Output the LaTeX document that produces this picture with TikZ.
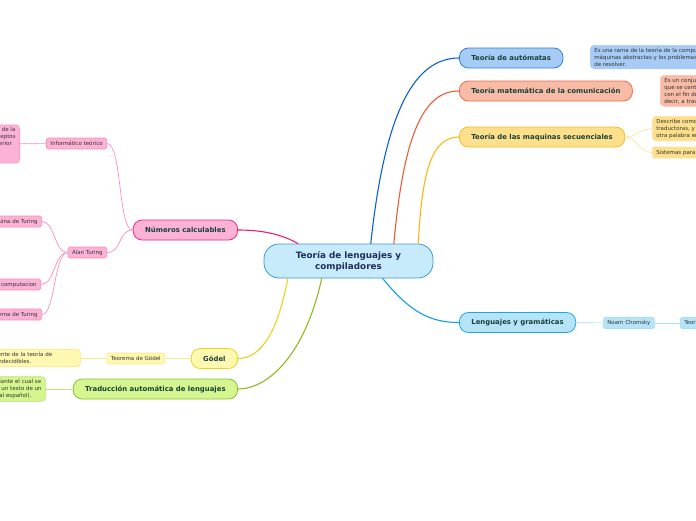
\documentclass[tikz,border=0pt]{standalone}
\usepackage{fontspec}
\setmainfont{DejaVu Sans}
\usetikzlibrary{positioning}

\definecolor{rootfill}{HTML}{C8EBFB}
\definecolor{rootdraw}{HTML}{3C96D6}
\definecolor{roottext}{HTML}{1F2D5C}
\definecolor{maintext}{HTML}{17403A}
\definecolor{subtext}{HTML}{333333}
% right side
\definecolor{autfill}{HTML}{A6CBF5}
\definecolor{autdraw}{HTML}{2D7EE0}
\definecolor{autline}{HTML}{0A5FD6}
\definecolor{autsub}{HTML}{A9CCF4}
\definecolor{comfill}{HTML}{F8BBA5}
\definecolor{comdraw}{HTML}{EE6A47}
\definecolor{comline}{HTML}{EC5A35}
\definecolor{comsub}{HTML}{F9C2AE}
\definecolor{secfill}{HTML}{FDDF8C}
\definecolor{secdraw}{HTML}{F6B926}
\definecolor{secline}{HTML}{F8B80F}
\definecolor{secsub}{HTML}{FDE3A0}
\definecolor{lenfill}{HTML}{B5E4F9}
\definecolor{lendraw}{HTML}{1EA6E2}
\definecolor{lenline}{HTML}{129FE0}
\definecolor{lensub}{HTML}{A8DDF6}
% left side
\definecolor{numfill}{HTML}{FCB2D5}
\definecolor{numdraw}{HTML}{EC2A86}
\definecolor{numline}{HTML}{E91E73}
\definecolor{numsub}{HTML}{F88DC0}
\definecolor{godfill}{HTML}{FFF8B0}
\definecolor{goddraw}{HTML}{E8D71C}
\definecolor{godline}{HTML}{E6D51C}
\definecolor{godsub}{HTML}{F7EB8E}
\definecolor{trafill}{HTML}{D5F58F}
\definecolor{tradraw}{HTML}{88C234}
\definecolor{traline}{HTML}{8FB91F}
\definecolor{trasub}{HTML}{BCE382}

\begin{document}
\begin{tikzpicture}[
	x=1pt, y=-1pt,
	line cap=round
]
\tikzset{
    rootnode/.style = {rectangle, rounded corners=15pt, draw=rootdraw, fill=rootfill, line width=0.8pt,
        minimum width=169pt, minimum height=34pt, align=center, text=roottext,
        font=\fontsize{8.8}{11}\selectfont\bfseries},
    mainnode/.style = {rectangle, rounded corners=9pt, line width=0.8pt, minimum height=20pt,
        inner xsep=12pt, text=maintext, font=\fontsize{6.9}{8}\selectfont\bfseries},
    subnode/.style = {rectangle, rounded corners=1.5pt, line width=0.6pt, minimum height=11pt,
        inner xsep=4pt, inner ysep=1pt, text=subtext, font=\fontsize{5.5}{6}\selectfont},
    notenode/.style = {rectangle, rounded corners=4pt, line width=0.6pt, inner xsep=4pt,
        inner ysep=2.5pt, align=left, text=subtext, font=\fontsize{5.5}{7}\selectfont},
    mainedge/.style = {line width=1.1pt},
    subedge/.style = {line width=0.7pt}
}
\useasboundingbox (0,0) rectangle (696,520);
\clip (0,0) rectangle (696,520);
%
\node[rootnode] at (348.5,261) (root) {Teoría de lenguajes y\\compiladores};
%
\node[mainnode, anchor=west, draw=autdraw, fill=autfill] at (459,58) (aut) {Teoría de autómatas};
\node[mainnode, anchor=west, draw=comdraw, fill=comfill] at (459,91) (com) {Teoría matemática de la comunicación};
\node[mainnode, anchor=west, draw=secdraw, fill=secfill] at (459,137) (sec) {Teoría de las maquinas secuenciales};
\node[mainnode, anchor=west, draw=lendraw, fill=lenfill] at (459,322.5) (len) {Lenguajes y gramáticas};
\node[mainnode, anchor=east, draw=numdraw, fill=numfill] at (238,230) (num) {Números calculables};
\node[mainnode, anchor=east, draw=goddraw, fill=godfill] at (238,358.5) (god) {Gödel};
\node[mainnode, anchor=east, draw=tradraw, fill=trafill] at (238,389) (tra) {Traducción automática de lenguajes};
%
\node[notenode, anchor=north west, draw=autsub, fill=autfill] at (590,45) (autnote)
    {Es una rama de la teoría de la computación que estudia las\\máquinas abstractas y los problemas que éstas son capaces\\de resolver.};
\node[notenode, anchor=north west, draw=comsub, fill=comfill] at (660,75) (comnote)
    {Es un conjunto de teorías matemáticas\\que se centra en la transmisión de datos\\con el fin de medir la información, es\\decir, a través de un canal.};
\node[notenode, anchor=north west, draw=secsub, fill=secfill] at (652,116) (secnote)
    {Describe como funcionan las máquinas\\traductoras, y cómo transforman una\\otra palabra en otra.};
\node[subnode, anchor=west, draw=secsub, fill=secfill] at (652,152.5) (secsis) {Sistemas para procesar secuencias};
\node[subnode, anchor=west, draw=lensub, fill=lenfill] at (603,323) (noam) {Noam Chomsky};
\node[subnode, anchor=west, draw=lensub, fill=lenfill] at (680,323) (teor) {Teoría de gramáticas};
%
\node[subnode, anchor=east, draw=numsub, fill=numfill] at (107,143.5) (info) {Informático teórico};
\node[subnode, anchor=east, draw=numsub, fill=numfill] at (107,252.5) (alan) {Alan Turing};
\node[notenode, anchor=east, draw=numsub, fill=numfill] at (20,144) (infonote)
    {Alan Turing es considerado uno de los padres de la\\ciencia de la computación, y uno de sus conceptos\\fue la base de la informática moderna y posterior\\desarrollo de las\\computadoras.};
\node[subnode, anchor=east, draw=numsub, fill=numfill] at (42,221.5) (maq) {Máquina de Turing};
\node[subnode, anchor=east, draw=numsub, fill=numfill] at (41,284.5) (comp) {Teoría de la computacion};
\node[subnode, anchor=east, draw=numsub, fill=numfill] at (42,314.5) (teot) {Teorema de Turing};
\node[subnode, anchor=east, draw=godsub, fill=godfill] at (165,358.5) (teog) {Teorema de Gödel};
\node[notenode, anchor=east, text width=144pt, draw=godsub, fill=godfill] at (81,358) (godnote)
    {Es el resultado más potente de la teoría de\\los problemas que son indecidibles.};
\node[notenode, anchor=east, draw=trasub, fill=trafill] at (46,389) (tranote)
    {Es un proceso informático mediante el cual se\\traduce de manera automática un texto de un\\idioma a otro (como del inglés al español).};
%
\draw[mainedge, autline] (root.38) .. controls (385,110) and (415,58) .. (aut.west);
\draw[mainedge, comline] (root.21) .. controls (404,130) and (425,91) .. (com.west);
\draw[mainedge, secline] (root.14) .. controls (422,170) and (432,137) .. (sec.west);
\draw[mainedge, lenline] (root.-27) .. controls (410,312) and (430,322.5) .. (len.west);
\draw[mainedge, numline] (root.161) .. controls (278,232) and (255,230) .. (num.east);
\draw[mainedge, godline] (root.-164) .. controls (278,330) and (262,358.5) .. (god.east);
\draw[mainedge, traline] (root.-147) .. controls (305,355) and (268,389) .. (tra.east);
%
\draw[subedge, autsub] (aut) edge (autnote.west -| aut.east);
\draw[subedge, comsub] (com) edge (comnote.west -| com.east);
\draw[subedge, secsub] (sec.east) .. controls (638,137) and (638,129.5) .. (secnote.west);
\draw[subedge, secsub] (sec.east) .. controls (638,137) and (638,152.5) .. (secsis.west);
\draw[subedge, lensub] (len) edge (noam);
\draw[subedge, lensub] (noam) edge (teor);
%
\draw[subedge, numsub] (num.west) .. controls (118,230) and (122,143.5) .. (info.east);
\draw[subedge, numsub] (num.west) .. controls (118,230) and (122,252.5) .. (alan.east);
\draw[subedge, numsub] (info) edge (infonote);
\draw[subedge, numsub] (alan.west) .. controls (54,252.5) and (55,221.5) .. (maq.east);
\draw[subedge, numsub] (alan.west) .. controls (54,252.5) and (55,284.5) .. (comp.east);
\draw[subedge, numsub] (alan.west) .. controls (54,252.5) and (55,314.5) .. (teot.east);
\draw[subedge, godsub] (god) edge (teog);
\draw[subedge, godsub] (teog) edge (godnote.east |- teog.west);
\draw[subedge, trasub] (tra) edge (tranote.east |- tra.west);
\end{tikzpicture}
\end{document}
